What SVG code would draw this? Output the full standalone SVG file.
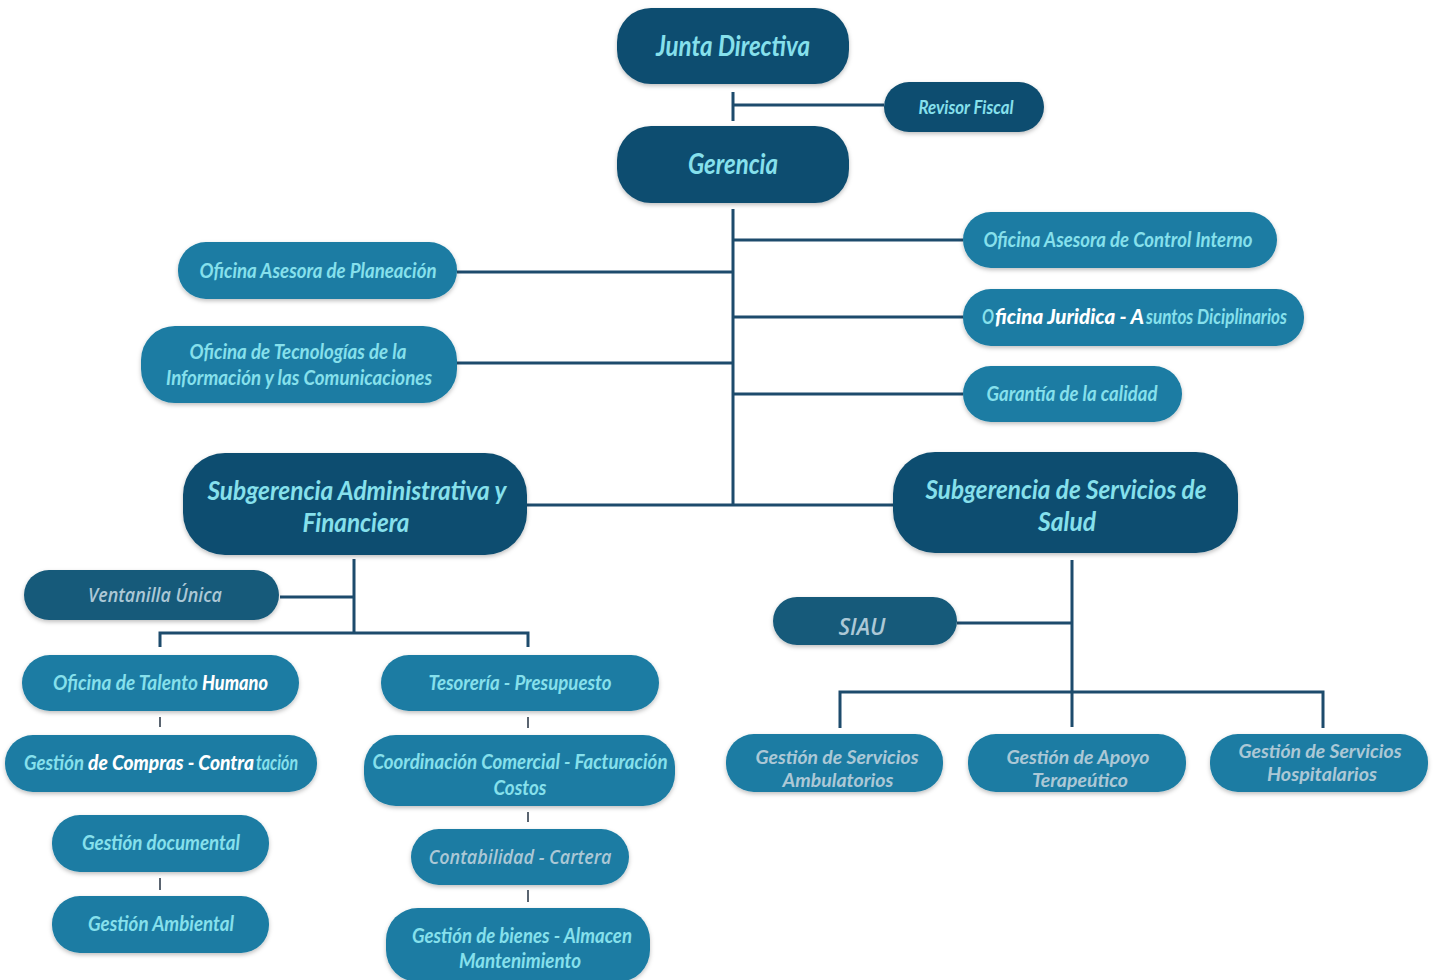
<svg xmlns="http://www.w3.org/2000/svg" width="1435" height="980" viewBox="0 0 1435 980">
<style>
.dark{fill:#0f4d6f;filter:url(#sh)}
.mid{fill:#185a7a;filter:url(#sh)}
.teal{fill:#1a7ca3;filter:url(#sh)}
.t{font-family:Lato,"Open Sans",sans-serif;font-style:italic;font-weight:bold;fill:#86e0ec;text-anchor:middle}
.s{text-anchor:start}
.g{font-family:"Open Sans",Lato,sans-serif;font-style:italic;font-weight:600;fill:#acc8d6;text-anchor:middle}
.g2{font-family:Lato,"Open Sans",sans-serif;font-style:italic;font-weight:bold;fill:#acc8d6;text-anchor:middle}
.w{fill:#ffffff;font-weight:900}
.ln{stroke:#1d4b6c;stroke-width:3;fill:none}
.tk{stroke:#5a6470;stroke-width:2;fill:none}
</style>
<defs>
<filter id="sh" x="-10%" y="-20%" width="120%" height="150%">
<feDropShadow dx="0" dy="2" stdDeviation="2" flood-color="#000" flood-opacity="0.25"/>
</filter>
</defs>
<rect width="1435" height="980" fill="#ffffff"/>
<g id="connectors">
<path class="ln" d="M733 92V121M733 105H884"/>
<path class="ln" d="M733 209V505M733 240H963M733 272H457M733 317H963M733 363H457M733 394H963M527 505H893"/>
<path class="ln" d="M354 559V633M280 597H354M160 647V633H528V647"/>
<path class="tk" d="M160 717V727M528 717V728M160 878V890M528 812V822M528 890V902"/>
<path class="ln" d="M1072 560V727M957 623H1072M840 728V692H1323V728"/>
</g>
<g id="junta"><rect class="dark" x="617" y="8" width="232" height="76" rx="34"/><text class="t" x="733" y="56" font-size="28" textLength="154" lengthAdjust="spacingAndGlyphs">Junta Directiva</text></g>
<g id="revisor"><rect class="dark" x="884" y="82" width="160" height="50" rx="25"/><text class="t" x="966" y="114" font-size="19" textLength="95" lengthAdjust="spacingAndGlyphs">Revisor Fiscal</text></g>
<g id="gerencia"><rect class="dark" x="617" y="126" width="232" height="77" rx="34"/><text class="t" x="733" y="174" font-size="28" textLength="90" lengthAdjust="spacingAndGlyphs">Gerencia</text></g>
<g id="control"><rect class="teal" x="963" y="212" width="314" height="56" rx="28"/><text class="t" x="1118" y="247" font-size="20" textLength="269" lengthAdjust="spacingAndGlyphs">Oficina Asesora de Control Interno</text></g>
<g id="planeacion"><rect class="teal" x="178" y="242" width="279" height="57" rx="28"/><text class="t" x="318" y="278" font-size="20" textLength="237" lengthAdjust="spacingAndGlyphs">Oficina Asesora de Planeación</text></g>
<g id="juridica"><rect class="teal" x="963" y="289" width="341" height="57" rx="28"/>
<text class="t s" x="982" y="324" font-size="20" textLength="12" lengthAdjust="spacingAndGlyphs">O</text>
<text class="t s w" x="995" y="324" font-size="20" textLength="149" lengthAdjust="spacingAndGlyphs">ficina Juridica - A</text>
<text class="t s" x="1146" y="324" font-size="20" textLength="141" lengthAdjust="spacingAndGlyphs">suntos Diciplinarios</text></g>
<g id="tic"><rect class="teal" x="141" y="326" width="316" height="77" rx="34"/><text class="t" x="298" y="359" font-size="20" textLength="217" lengthAdjust="spacingAndGlyphs">Oficina de Tecnologías de la</text><text class="t" x="299" y="385" font-size="20" textLength="266" lengthAdjust="spacingAndGlyphs">Información y las Comunicaciones</text></g>
<g id="calidad"><rect class="teal" x="963" y="366" width="219" height="56" rx="28"/><text class="t" x="1072" y="401" font-size="20" textLength="171" lengthAdjust="spacingAndGlyphs">Garantía de la calidad</text></g>
<g id="subadmin"><rect class="dark" x="183" y="453" width="344" height="102" rx="42"/><text class="t" x="357" y="500" font-size="27" textLength="299" lengthAdjust="spacingAndGlyphs">Subgerencia Administrativa y</text><text class="t" x="356" y="532" font-size="27" textLength="107" lengthAdjust="spacingAndGlyphs">Financiera</text></g>
<g id="subsalud"><rect class="dark" x="893" y="452" width="345" height="101" rx="42"/><text class="t" x="1066" y="499" font-size="27" textLength="281" lengthAdjust="spacingAndGlyphs">Subgerencia de Servicios de</text><text class="t" x="1067" y="531" font-size="27" textLength="58" lengthAdjust="spacingAndGlyphs">Salud</text></g>
<g id="ventanilla"><rect class="mid" x="24" y="570" width="255" height="50" rx="25"/><text class="g" x="155" y="602" font-size="20" textLength="134" lengthAdjust="spacingAndGlyphs">Ventanilla Única</text></g>
<g id="talento"><rect class="teal" x="22" y="655" width="277" height="56" rx="28"/>
<text class="t s" x="53" y="690" font-size="20" textLength="145" lengthAdjust="spacingAndGlyphs">Oficina de Talento</text>
<text class="t s w" x="202" y="690" font-size="20" textLength="66" lengthAdjust="spacingAndGlyphs">Humano</text></g>
<g id="tesoreria"><rect class="teal" x="381" y="655" width="278" height="56" rx="28"/><text class="t" x="520" y="690" font-size="20" textLength="183" lengthAdjust="spacingAndGlyphs">Tesorería - Presupuesto</text></g>
<g id="compras"><rect class="teal" x="5" y="735" width="312" height="57" rx="28"/>
<text class="t s" x="24" y="770" font-size="20" textLength="60" lengthAdjust="spacingAndGlyphs">Gestión</text>
<text class="t s w" x="88" y="770" font-size="20" textLength="166" lengthAdjust="spacingAndGlyphs">de Compras - Contra</text>
<text class="t s" x="256" y="770" font-size="20" textLength="42" lengthAdjust="spacingAndGlyphs">tación</text></g>
<g id="comercial"><rect class="teal" x="364" y="735" width="311" height="71" rx="32"/><text class="t" x="520" y="769" font-size="20" textLength="295" lengthAdjust="spacingAndGlyphs">Coordinación Comercial - Facturación</text><text class="t" x="520" y="795" font-size="20" textLength="53" lengthAdjust="spacingAndGlyphs">Costos</text></g>
<g id="documental"><rect class="teal" x="52" y="815" width="217" height="57" rx="28"/><text class="t" x="161" y="850" font-size="20" textLength="158" lengthAdjust="spacingAndGlyphs">Gestión documental</text></g>
<g id="contabilidad"><rect class="teal" x="411" y="829" width="218" height="56" rx="28"/><text class="g" x="520" y="864" font-size="20" textLength="183" lengthAdjust="spacingAndGlyphs" fill="#b6d0dd">Contabilidad - Cartera</text></g>
<g id="ambiental"><rect class="teal" x="52" y="896" width="217" height="57" rx="28"/><text class="t" x="161" y="931" font-size="20" textLength="146" lengthAdjust="spacingAndGlyphs">Gestión Ambiental</text></g>
<g id="bienes"><rect class="teal" x="386" y="908" width="264" height="74" rx="32"/><text class="t" x="522" y="943" font-size="20" textLength="220" lengthAdjust="spacingAndGlyphs">Gestión de bienes - Almacen</text><text class="t" x="520" y="968" font-size="20" textLength="122" lengthAdjust="spacingAndGlyphs">Mantenimiento</text></g>
<g id="siau"><rect class="mid" x="773" y="597" width="184" height="48" rx="24"/><text class="g" x="862" y="635" font-size="24" textLength="47" lengthAdjust="spacingAndGlyphs" fill="#8fa9ba">SIAU</text></g>
<g id="ambulatorios"><rect class="teal" x="726" y="734" width="217" height="58" rx="28"/><text class="g2" x="837" y="764" font-size="19" textLength="163" lengthAdjust="spacingAndGlyphs">Gestión de Servicios</text><text class="g2" x="838" y="787" font-size="19" textLength="111" lengthAdjust="spacingAndGlyphs">Ambulatorios</text></g>
<g id="terapeutico"><rect class="teal" x="968" y="734" width="218" height="58" rx="28"/><text class="g2" x="1078" y="764" font-size="19" textLength="143" lengthAdjust="spacingAndGlyphs">Gestión de Apoyo</text><text class="g2" x="1080" y="787" font-size="19" textLength="96" lengthAdjust="spacingAndGlyphs">Terapeútico</text></g>
<g id="hospitalarios"><rect class="teal" x="1210" y="734" width="218" height="58" rx="28"/><text class="g2" x="1320" y="758" font-size="19" textLength="163" lengthAdjust="spacingAndGlyphs">Gestión de Servicios</text><text class="g2" x="1322" y="781" font-size="19" textLength="110" lengthAdjust="spacingAndGlyphs">Hospitalarios</text></g>
</svg>
